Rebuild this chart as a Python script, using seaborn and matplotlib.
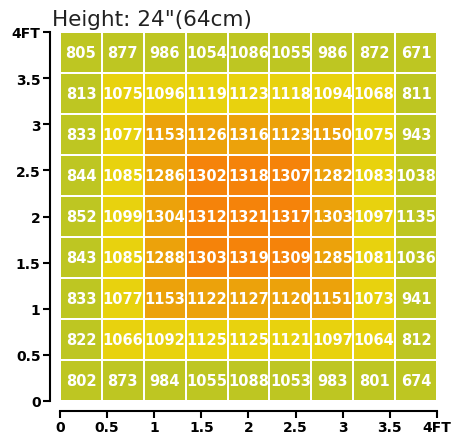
import numpy as np
import pandas as pd
import matplotlib
matplotlib.use("Agg")
import matplotlib.pyplot as plt
import seaborn as sns
from matplotlib.colors import ListedColormap

# PPFD values, rows top (4FT) to bottom (0)
values = [
    [805, 877, 986, 1054, 1086, 1055, 986, 872, 671],
    [813, 1075, 1096, 1119, 1123, 1118, 1094, 1068, 811],
    [833, 1077, 1153, 1126, 1316, 1123, 1150, 1075, 943],
    [844, 1085, 1286, 1302, 1318, 1307, 1282, 1083, 1038],
    [852, 1099, 1304, 1312, 1321, 1317, 1303, 1097, 1135],
    [843, 1085, 1288, 1303, 1319, 1309, 1285, 1081, 1036],
    [833, 1077, 1153, 1122, 1127, 1120, 1151, 1073, 941],
    [822, 1066, 1092, 1125, 1125, 1121, 1097, 1064, 812],
    [802, 873, 984, 1055, 1088, 1053, 983, 801, 674],
]
# colour zone of each cell (0 green, 1 yellow, 2 amber, 3 orange)
zones = [
    [0, 0, 0, 0, 0, 0, 0, 0, 0],
    [0, 1, 1, 1, 1, 1, 1, 1, 0],
    [0, 1, 2, 2, 2, 2, 2, 1, 0],
    [0, 1, 2, 3, 3, 3, 2, 1, 0],
    [0, 1, 2, 3, 3, 3, 2, 1, 0],
    [0, 1, 2, 3, 3, 3, 2, 1, 0],
    [0, 1, 2, 2, 2, 2, 2, 1, 0],
    [0, 1, 1, 1, 1, 1, 1, 1, 0],
    [0, 0, 0, 0, 0, 0, 0, 0, 0],
]
zone_colors = ["#bec622", "#e8d20e", "#eca20b", "#f5830a"]
tick_feet = [0, 0.5, 1, 1.5, 2, 2.5, 3, 3.5, 4]
tick_labels = ["0", "0.5", "1", "1.5", "2", "2.5", "3", "3.5", "4FT"]
title = 'Height: 24"(64cm)'

plt.rcParams["font.weight"] = "bold"
plt.rcParams["font.family"] = ["DejaVu Sans"]

fig = plt.figure(figsize=(4.52, 4.39), dpi=100)
ax = fig.add_axes([60/452, 37/439, 377/452, 369/439])

zdf = pd.DataFrame(zones)
vdf = pd.DataFrame(values)
sns.heatmap(zdf, annot=vdf, fmt="d", cmap=ListedColormap(zone_colors),
            vmin=-0.5, vmax=3.5, cbar=False, linewidths=1.2, linecolor="white",
            annot_kws={"color": "white", "fontsize": 10.5, "fontweight": "bold"},
            ax=ax)

n = len(values)
ax.set_xticks([f * n / 4 for f in tick_feet])
ax.set_xticklabels(tick_labels, fontdict={"fontweight": "bold", "fontsize": 10})
ax.set_yticks([n - f * n / 4 for f in tick_feet])
ax.set_yticklabels(tick_labels, fontdict={"fontweight": "bold", "fontsize": 10})
ax.tick_params(axis="both", length=5, width=1.5, color="black", pad=2,
               labelcolor="black", labelrotation=0)
for side in ["left", "bottom"]:
    ax.spines[side].set_visible(True)
    ax.spines[side].set_linewidth(1.5)
    ax.spines[side].set_color("black")
    ax.spines[side].set_position(("outward", 7))

fig.text(52/452, 1 - 26/439, title, fontsize=15.5, fontweight="normal",
         color="#222222", ha="left", va="baseline")

fig.savefig("out.png", dpi=100)
